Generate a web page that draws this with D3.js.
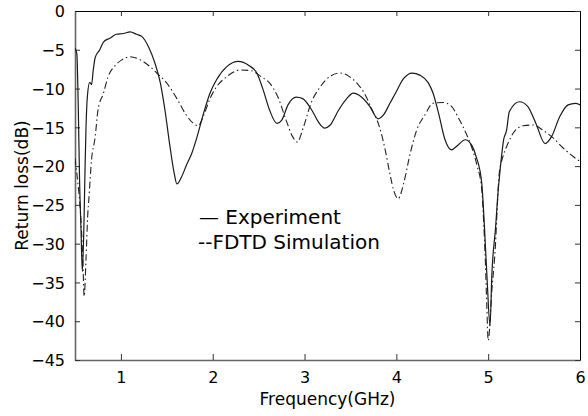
<!DOCTYPE html>
<html><head><meta charset="utf-8">
<script src="https://cdn.jsdelivr.net/npm/d3@7"></script>
<style>html,body{margin:0;padding:0;background:#fff;}svg{display:block;}</style>
</head><body>
<script>
const xTicks = [1, 2, 3, 4, 5, 6];
const yTicks = [0, -5, -10, -15, -20, -25, -30, -35, -40, -45];

const expF = [0.50,0.52,0.535,0.55,0.565,0.58,0.60,0.61,0.62,0.635,0.66,0.68,0.70,0.72,0.77,0.81,0.88,0.95,1.03,1.10,1.17,1.23,1.30,1.37,1.43,1.48,1.53,1.58,1.61,1.66,1.72,1.77,1.83,1.90,1.97,2.04,2.15,2.28,2.39,2.48,2.55,2.62,2.70,2.75,2.82,2.91,2.98,3.08,3.15,3.22,3.28,3.37,3.46,3.53,3.62,3.71,3.80,3.86,3.93,3.99,4.08,4.17,4.26,4.35,4.40,4.46,4.53,4.60,4.67,4.75,4.82,4.87,4.93,4.96,4.99,5.02,5.04,5.08,5.11,5.13,5.17,5.20,5.23,5.34,5.43,5.52,5.62,5.69,5.78,5.87,5.95,6.00];
const expDB = [-4.8,-5.5,-12,-22,-28,-33.6,-26,-20,-15,-11,-9.2,-9.5,-7.5,-6.0,-5.0,-4.0,-3.5,-3.0,-2.9,-2.7,-3.0,-3.3,-4.6,-6.7,-9.3,-12.8,-17.1,-20.9,-22.3,-21.4,-19.7,-18.4,-16.2,-13.2,-10.6,-8.9,-7.2,-6.5,-7.0,-8.0,-10.2,-12.8,-14.5,-14.1,-12.1,-11.1,-11.3,-12.8,-14.3,-15.1,-14.7,-12.8,-11.3,-10.6,-11.1,-12.3,-13.9,-13.4,-11.9,-10.6,-8.7,-8.0,-8.3,-9.3,-10.6,-13.2,-16.6,-17.9,-17.3,-16.6,-17.3,-18.8,-22.2,-28,-35,-40.6,-34,-28,-23,-20.5,-16.5,-15.4,-13.0,-11.7,-12.3,-14.5,-17.1,-16.2,-13.6,-12.1,-11.9,-12.1];

const simF = [0.50,0.53,0.56,0.585,0.60,0.62,0.64,0.65,0.68,0.72,0.75,0.81,0.86,0.94,1.01,1.10,1.21,1.32,1.39,1.50,1.61,1.70,1.79,1.84,1.90,1.97,2.04,2.15,2.30,2.42,2.53,2.62,2.71,2.80,2.87,2.92,2.99,3.07,3.17,3.28,3.39,3.48,3.57,3.66,3.73,3.82,3.88,3.93,3.97,4.02,4.08,4.15,4.22,4.31,4.40,4.51,4.60,4.69,4.76,4.83,4.88,4.93,4.95,4.97,4.985,5.00,5.04,5.08,5.10,5.12,5.16,5.20,5.27,5.38,5.49,5.60,5.71,5.82,5.93,6.00];
const simDB = [-19,-22,-26,-32,-36.8,-32,-26,-24.4,-19.2,-16.2,-12.8,-10.6,-8.5,-7.0,-6.3,-5.9,-6.3,-7.2,-8.0,-9.3,-11.3,-13.2,-14.5,-14.8,-13.5,-11.3,-9.8,-8.5,-7.6,-7.7,-8.5,-9.3,-11.1,-14.1,-16.2,-16.9,-14.9,-11.9,-9.8,-8.4,-8.0,-8.4,-9.3,-10.8,-12.6,-15.1,-18.0,-21,-23.1,-24.2,-22.2,-18.4,-15.4,-13.4,-11.9,-11.8,-12.3,-14.1,-15.8,-17.9,-20,-23,-27,-32.5,-38,-42.5,-36,-30,-25,-21,-18.8,-17.5,-15.8,-14.8,-14.7,-15.4,-16.4,-17.7,-18.8,-19.4];

const legendLabels = ["\u2014 Experiment", "--FDTD Simulation"];
const xLabel = "Frequency(GHz)";
const yLabel = "Return loss(dB)";

const W = 588, H = 416;
const L = 75, R = 580, T = 11, B = 360;
const FONT = "'DejaVu Sans', sans-serif";

const svg = d3.select("body").append("svg").attr("width", W).attr("height", H);
const x = d3.scaleLinear().domain([0.5, 6]).range([L, R]);
const y = d3.scaleLinear().domain([-45, 0]).range([B, T]);

svg.append("defs").append("clipPath").attr("id", "clip")
  .append("rect").attr("x", L).attr("y", T).attr("width", R - L).attr("height", B - T);

// axes with inward ticks
const gB = svg.append("g").attr("transform", `translate(0,${B})`)
  .call(d3.axisBottom(x).tickValues(xTicks).tickSizeInner(-6).tickSizeOuter(0).tickPadding(12).tickFormat(d3.format("d")));
const gL = svg.append("g").attr("transform", `translate(${L},0)`)
  .call(d3.axisLeft(y).tickValues(yTicks).tickSizeInner(-5).tickSizeOuter(0).tickPadding(10).tickFormat(d => d3.format("d")(d).replace("-", "\u2212")));
const gT = svg.append("g").attr("transform", `translate(0,${T})`)
  .call(d3.axisTop(x).tickValues(xTicks).tickSizeInner(-5).tickSizeOuter(0).tickFormat(""));
const gR = svg.append("g").attr("transform", `translate(${R},0)`)
  .call(d3.axisRight(y).tickValues(yTicks).tickSizeInner(-5).tickSizeOuter(0).tickFormat(""));

[gB, gL].forEach(g => {
  g.select(".domain").attr("stroke", "#666").attr("stroke-width", 1.6);
  g.selectAll(".tick line").attr("stroke", "#333");
  g.selectAll("text").attr("font-family", FONT).attr("font-size", 16).attr("fill", "#000");
});
[gT, gR].forEach(g => {
  g.select(".domain").attr("stroke", "#000").attr("stroke-width", 1);
  g.selectAll(".tick line").attr("stroke", "#333");
});
gL.selectAll(".tick text").attr("dy", "0.36em");

const plot = svg.append("g").attr("clip-path", "url(#clip)");
const line = d3.line().x(d => x(d[0])).y(d => y(d[1])).curve(d3.curveMonotoneX);

plot.append("path")
  .datum(simF.map((f, i) => [f, simDB[i]]))
  .attr("d", line).attr("fill", "none").attr("stroke", "#222").attr("stroke-width", 1.1)
  .attr("stroke-dasharray", "7,3,1.5,3");

plot.append("path")
  .datum(expF.map((f, i) => [f, expDB[i]]))
  .attr("d", line).attr("fill", "none").attr("stroke", "#1a1a1a").attr("stroke-width", 1.2);

// legend
svg.append("text").attr("x", 199).attr("y", 224).attr("font-family", FONT).attr("font-size", 20)
  .attr("fill", "#000").text(legendLabels[0]);
svg.append("text").attr("x", 198).attr("y", 249).attr("font-family", FONT).attr("font-size", 20)
  .attr("fill", "#000").text(legendLabels[1]);

// axis labels
svg.append("text").attr("x", (L + R) / 2).attr("y", 405).attr("text-anchor", "middle")
  .attr("font-family", FONT).attr("font-size", 17).attr("fill", "#000").text(xLabel);
svg.append("text").attr("transform", `translate(28,${(T + B) / 2}) rotate(-90)`).attr("text-anchor", "middle")
  .attr("font-family", FONT).attr("font-size", 17).attr("fill", "#000").text(yLabel);
</script>
</body></html>
